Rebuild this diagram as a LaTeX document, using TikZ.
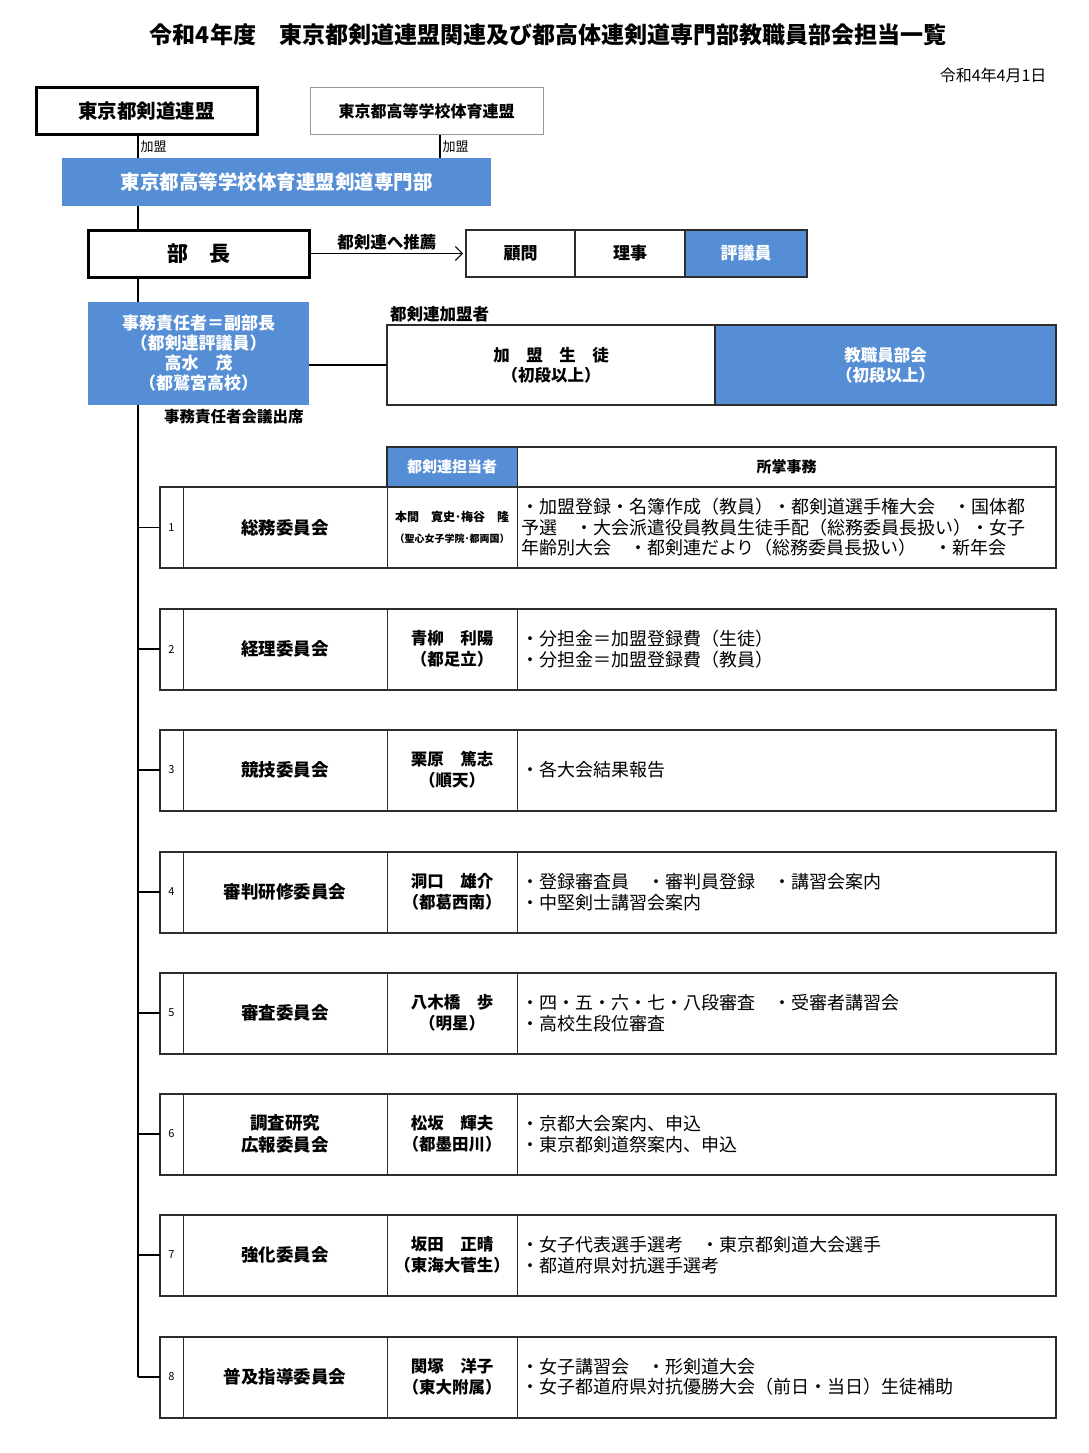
\documentclass[tikz,border=0pt]{standalone}
\usepackage{fontspec}
\setmainfont{Noto Sans CJK JP}
\usetikzlibrary{arrows.meta, positioning}
\definecolor{hqblue}{RGB}{85,142,213}
\definecolor{frame}{RGB}{45,45,45}
\definecolor{softgray}{RGB}{150,150,150}

\begin{document}
\begin{tikzpicture}[x=1pt, y=-1pt,
    strongbox/.style={draw=black, line width=3pt, fill=white, inner sep=0pt, align=center,
                      minimum width=221pt, minimum height=47pt},
    plainbox/.style={draw=softgray, line width=1pt, fill=white, inner sep=0pt, align=center},
    bluebox/.style={fill=hqblue, text=white, inner sep=0pt, align=center},
    rolebox/.style={draw=frame, line width=1.5pt, inner sep=0pt, outer sep=0pt, align=center,
                    minimum height=47pt, font=\bfseries\fontsize{17}{20}\selectfont},
    memberbox/.style={draw=frame, line width=2pt, inner sep=0pt, outer sep=0pt, align=center,
                      minimum height=80pt, font=\bfseries\fontsize{16.5}{20}\selectfont},
    cell/.style={draw=frame, line width=1pt, inner sep=0pt, outer sep=0pt, align=center,
                 minimum height=81pt},
    rowframe/.style={draw=frame, line width=2pt},
    link/.style={draw=black, line width=1.2pt},
    arr/.style={-{Straight Barb[length=7pt, width=14pt]}, line width=1pt},
    tag/.style={font=\fontsize{13}{15}\selectfont, inner sep=2pt},
    namefont/.style={font=\bfseries\fontsize{17.5}{22}\selectfont},
    whofont/.style={font=\bfseries\fontsize{16.5}{21}\selectfont},
    jobtext/.style={font=\fontsize{18}{20.5}\selectfont, align=left, inner sep=0pt}
  ]
    \useasboundingbox (0,0) rectangle (1089,1453);

    \node[font=\bfseries\fontsize{23}{27}\selectfont] (title) at (548,35)
      {令和4年度　東京都剣道連盟関連及び都高体連剣道専門部教職員部会担当一覧};
    \node[anchor=east, font=\fontsize{16}{19}\selectfont] (date) at (1050,75) {令和4年4月1日};

    % top organisations
    \node[strongbox, font=\bfseries\fontsize{19.5}{23}\selectfont] (kenren) at (146.5,111.5) {東京都剣道連盟};
    \node[plainbox, minimum width=233pt, minimum height=47pt, font=\bfseries\fontsize{16}{19}\selectfont]
      (koutairen) at (426.5,111.5) {東京都高等学校体育連盟};
    \node[bluebox, minimum width=429pt, minimum height=48pt, font=\bfseries\fontsize{19.5}{23}\selectfont]
      (senmon) at (276.5,182) {東京都高等学校体育連盟剣道専門部};

    \coordinate (trunk) at (138,0);
    \coordinate (side) at (440,0);
    \draw[link] (kenren.south -| trunk) -- (senmon.north -| trunk) node[midway, right, tag] {加盟};
    \draw[link] (koutairen.south -| side) -- (senmon.north -| side) node[midway, right, tag] {加盟};

    % head of department
    \node[strongbox, font=\bfseries\fontsize{21}{25}\selectfont] (bucho) at (198.5,253.5) {部　長};
    \draw[link] (senmon.south -| trunk) -- (bucho.north -| trunk);

    \node[rolebox, minimum width=109pt] (komon) at (520.5,253.5) {顧問};
    \node[rolebox, minimum width=110pt, right=0pt of komon] (riji) {理事};
    \node[rolebox, minimum width=122pt, right=0pt of riji, fill=hqblue, text=white] (hyogi) {評議員};
    \draw[arr] (bucho.east) -- ([xshift=-3pt]komon.west)
      node[midway, above, font=\bfseries\fontsize{16.5}{20}\selectfont, inner sep=3pt] {都剣連へ推薦};

    % secretary
    \node[bluebox, minimum width=221pt, minimum height=103pt, font=\bfseries\fontsize{17}{20}\selectfont]
      (jimu) at (198.5,353.5) {事務責任者＝副部長\\（都剣連評議員）\\高水　茂\\（都鷲宮高校）};
    \draw[link] (bucho.south -| trunk) -- (jimu.north -| trunk);
    \node[anchor=west, font=\bfseries\fontsize{15.5}{19}\selectfont, inner sep=0pt] (kaigi) at (164,417) {事務責任者会議出席};

    \node[memberbox, minimum width=328pt] (students) at (551,365) {加　盟　生　徒\\（初段以上）};
    \node[memberbox, minimum width=341pt, right=0pt of students, fill=hqblue, text=white] (staff)
      {教職員部会\\（初段以上）};
    \node[anchor=south west, font=\bfseries\fontsize{16.5}{20}\selectfont, inner sep=3pt] (kamei)
      at (students.north west) {都剣連加盟者};
    \draw[link] (jimu.east |- students.west) -- (students.west);

    % table header
    \node[cell, minimum width=130pt, minimum height=40pt, fill=hqblue, text=white,
          font=\bfseries\fontsize{15}{18}\selectfont] (tantou) at (452,467) {都剣連担当者};
    \node[cell, minimum width=539pt, minimum height=40pt, right=0pt of tantou,
          font=\bfseries\fontsize{15}{18}\selectfont] (shosho) {所掌事務};
    \draw[rowframe] (tantou.north west) rectangle (shosho.south east);

    % committees
    \foreach \i/\yc/\nm/\who/\job in {
      1/527.5/総務委員会/{\fontsize{12}{16}\selectfont 本間　寛史･梅谷　隆\\\fontsize{10}{16}\selectfont（聖心女子学院･都両国）}/{・加盟登録・名簿作成（教員）・都剣道選手権大会　・国体都\\予選　・大会派遣役員教員生徒手配（総務委員長扱い）・女子\\年齢別大会　・都剣連だより（総務委員長扱い）　・新年会},
      2/649/経理委員会/{青柳　利陽\\（都足立）}/{・分担金＝加盟登録費（生徒）\\・分担金＝加盟登録費（教員）},
      3/770/競技委員会/{栗原　篤志\\（順天）}/{・各大会結果報告},
      4/892/審判研修委員会/{洞口　雄介\\（都葛西南）}/{・登録審査員　・審判員登録　・講習会案内\\・中堅剣士講習会案内},
      5/1013/審査委員会/{八木橋　歩\\（明星）}/{・四・五・六・七・八段審査　・受審者講習会\\・高校生段位審査},
      6/1134/{調査研究\\広報委員会}/{松坂　輝夫\\（都墨田川）}/{・京都大会案内、申込\\・東京都剣道祭案内、申込},
      7/1255/強化委員会/{坂田　正晴\\（東海大菅生）}/{・女子代表選手選考　・東京都剣道大会選手\\・都道府県対抗選手選考},
      8/1377/普及指導委員会/{関塚　洋子\\（東大附属）}/{・女子講習会　・形剣道大会\\・女子都道府県対抗優勝大会（前日・当日）生徒補助}} {
      \node[cell, minimum width=23pt, font=\fontsize{11}{13}\selectfont] (num\i) at (171.5,\yc) {\i};
      \node[cell, minimum width=204pt, right=0pt of num\i, namefont] (name\i) {\nm};
      \node[cell, minimum width=130pt, right=0pt of name\i, whofont] (who\i) {\who};
      \node[cell, minimum width=539pt, right=0pt of who\i] (job\i) {};
      \node[jobtext, anchor=west] (task\i) at ([xshift=4pt]job\i.west) {\job};
      \draw[rowframe] (num\i.north west) rectangle (job\i.south east);
      \draw[link] (trunk |- num\i.west) -- (num\i.west);
    }
    \draw[link] (jimu.south -| trunk) -- (trunk |- num8.west);
  \end{tikzpicture}
\end{document}
